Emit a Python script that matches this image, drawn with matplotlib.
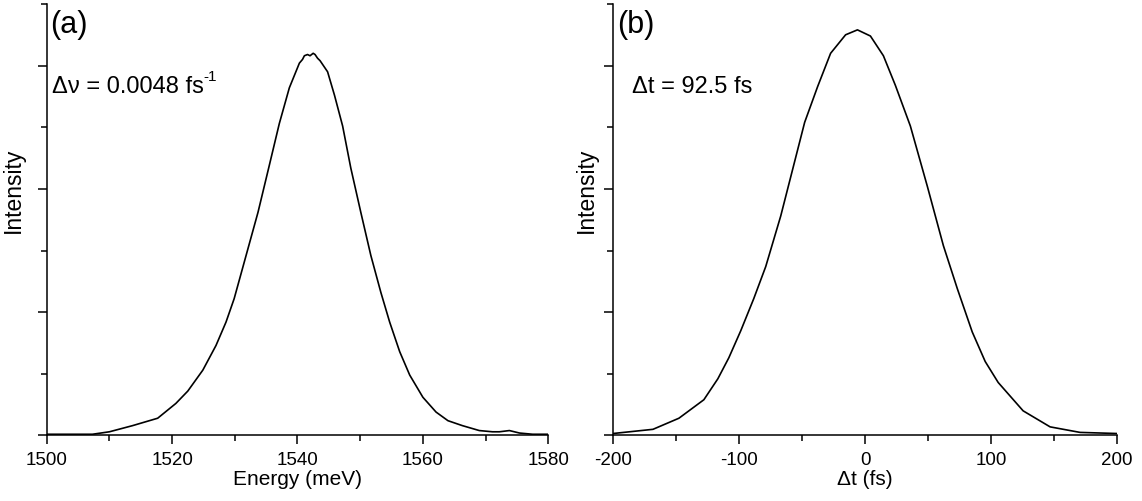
import numpy as np
import matplotlib
matplotlib.use('Agg')
import matplotlib.pyplot as plt
from matplotlib.ticker import MultipleLocator

plt.rcParams['font.family'] = ['Liberation Sans', 'DejaVu Sans']
plt.rcParams['axes.unicode_minus'] = False

# (a) spectrum, energy in meV vs intensity (arb. units)
energy = [1500.0, 1507.3, 1510.0, 1513.7, 1517.7, 1520.6, 1522.5, 1524.9, 1527.0,
          1528.6, 1529.9, 1531.8, 1533.7, 1535.5, 1537.1, 1538.7, 1540.3, 1540.8,
          1541.1, 1541.6, 1542.0, 1542.5, 1542.8, 1543.2, 1543.6, 1544.0, 1544.8,
          1545.9, 1547.2, 1548.5, 1550.1, 1551.7, 1553.3, 1554.7, 1556.3, 1557.9,
          1560.0, 1562.1, 1564.0, 1566.3, 1569.0, 1571.1, 1572.2, 1573.8, 1575.4,
          1577.5, 1580.0]
spectrum = [0.01, 0.01, 0.03, 0.08, 0.14, 0.26, 0.36, 0.53, 0.73,
            0.92, 1.11, 1.46, 1.81, 2.19, 2.53, 2.82, 3.02, 3.05,
            3.08, 3.09, 3.08, 3.10, 3.09, 3.06, 3.04, 3.01, 2.95,
            2.76, 2.51, 2.17, 1.81, 1.46, 1.16, 0.92, 0.68, 0.49,
            0.31, 0.19, 0.12, 0.08, 0.04, 0.03, 0.03, 0.04, 0.02,
            0.01, 0.01]

# (b) pulse, delay in fs vs intensity
delay = [-200.0, -168.3, -147.7, -127.9, -116.8, -108.1, -98.6, -88.3, -78.8,
         -66.9, -57.4, -47.9, -37.6, -27.3, -15.4, -6.0, 4.3, 14.6, 24.1,
         36.0, 49.5, 62.2, 73.3, 85.1, 95.4, 105.7, 125.5, 146.9, 170.7, 200.0]
pulse = [0.016, 0.05, 0.14, 0.29, 0.46, 0.63, 0.85, 1.11, 1.37,
         1.78, 2.16, 2.54, 2.83, 3.10, 3.25, 3.29, 3.24, 3.08, 2.84,
         2.51, 2.02, 1.54, 1.19, 0.84, 0.60, 0.43, 0.20, 0.07, 0.025, 0.016]

fig = plt.figure(figsize=(11.42, 5.02), dpi=100)
ax1 = fig.add_axes([0.0409, 0.1305, 0.4392, 0.8596])
ax2 = fig.add_axes([0.5368, 0.1305, 0.4413, 0.8596])


def style(ax, xlim, major, minor, xlabel, ylab_x):
    ax.set_xlim(*xlim)
    ax.set_ylim(0, 3.5)
    ax.xaxis.set_major_locator(MultipleLocator(major))
    ax.xaxis.set_minor_locator(MultipleLocator(minor))
    ax.yaxis.set_major_locator(MultipleLocator(1))
    ax.yaxis.set_minor_locator(MultipleLocator(0.5))
    ax.set_yticklabels([])
    for s in ['top', 'right']:
        ax.spines[s].set_visible(False)
    for s in ['left', 'bottom']:
        ax.spines[s].set_linewidth(1.1)
    ax.tick_params(which='major', direction='out', length=6.5, width=1.1,
                   labelsize=13.5, pad=5)
    ax.tick_params(which='minor', direction='out', length=4, width=1.1)
    ax.set_xlabel(xlabel, fontsize=15)
    ax.xaxis.set_label_coords(0.5, -0.077)
    ax.set_ylabel('Intensity', fontsize=16.5)
    ax.yaxis.set_label_coords(ylab_x, 0.571)


ax1.plot(energy, spectrum, color='black', lw=1.2)
style(ax1, (1500, 1580), 20, 10, 'Energy (meV)', -0.043)
ax1.text(0.007, 0.935, '(a)', transform=ax1.transAxes, fontsize=22)
dnu = ax1.text(0.011, 0.796, 'Δν = 0.0048 fs', transform=ax1.transAxes, fontsize=17)

ax2.plot(delay, pulse, color='black', lw=1.2)
style(ax2, (-200, 200), 100, 50, 'Δt (fs)', -0.030)
ax2.text(0.008, 0.935, '(b)', transform=ax2.transAxes, fontsize=22)
ax2.text(0.038, 0.796, 'Δt = 92.5 fs', transform=ax2.transAxes, fontsize=17)

# superscript -1 placed right after "fs"
fig.canvas.draw()
bb = dnu.get_window_extent(renderer=fig.canvas.get_renderer())
x_end, _ = ax1.transAxes.inverted().transform((bb.x1, bb.y0))
ax1.text(x_end - 0.001, 0.796 + 0.027, '-1', transform=ax1.transAxes, fontsize=11)

fig.savefig('out.png', dpi=100)
